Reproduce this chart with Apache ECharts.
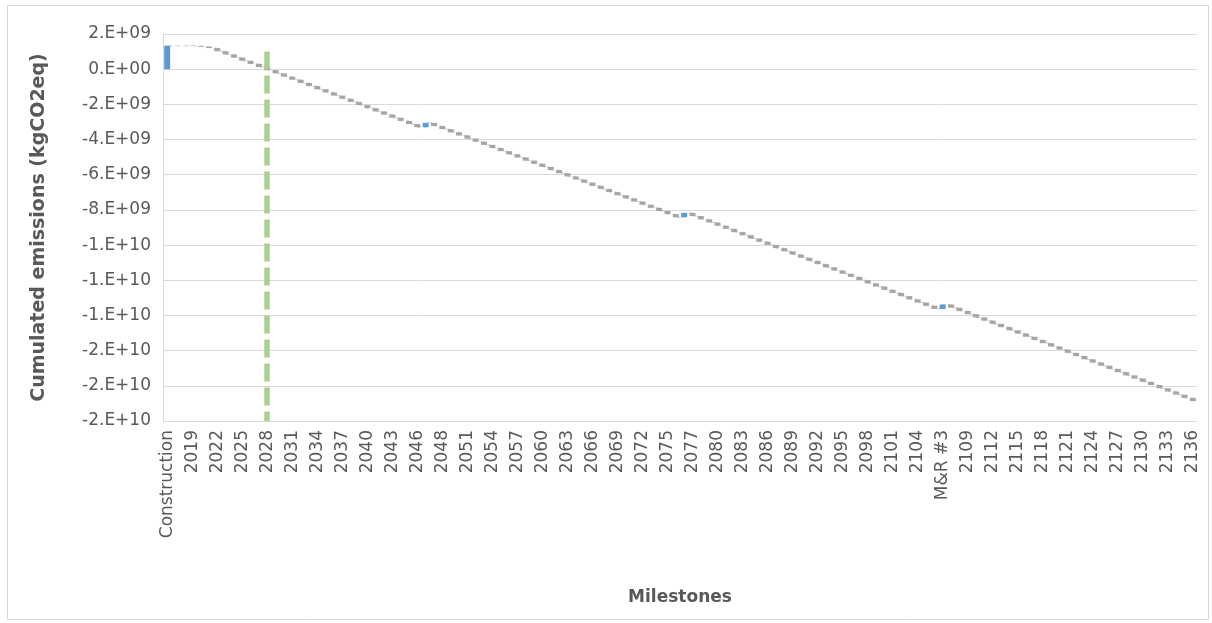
<!DOCTYPE html>
<html>
<head>
<meta charset="utf-8">
<title>Cumulated emissions</title>
<script src="https://cdn.jsdelivr.net/npm/echarts@6/dist/echarts.min.js"></script>
<style>
    html, body { margin: 0; padding: 0; background: #ffffff; }
    #waterfallChart { width: 1212px; height: 623px; }
</style>
</head>
<body>
<div id="waterfallChart"></div>
<script type="text/javascript">
    // milestones, one per bar
    const categories = [
        'Construction',
        '2017', '2018', '2019', '2020', '2021', '2022', '2023', '2024', '2025', '2026',
        '2027', '2028', '2029', '2030', '2031', '2032', '2033', '2034', '2035', '2036',
        '2037', '2038', '2039', '2040', '2041', '2042', '2043', '2044', '2045', '2046',
        'M&R #1',
        '2047', '2048', '2049', '2050', '2051', '2052', '2053', '2054', '2055', '2056',
        '2057', '2058', '2059', '2060', '2061', '2062', '2063', '2064', '2065', '2066',
        '2067', '2068', '2069', '2070', '2071', '2072', '2073', '2074', '2075', '2076',
        'M&R #2',
        '2077', '2078', '2079', '2080', '2081', '2082', '2083', '2084', '2085', '2086',
        '2087', '2088', '2089', '2090', '2091', '2092', '2093', '2094', '2095', '2096',
        '2097', '2098', '2099', '2100', '2101', '2102', '2103', '2104', '2105', '2106',
        'M&R #3',
        '2107', '2108', '2109', '2110', '2111', '2112', '2113', '2114', '2115', '2116',
        '2117', '2118', '2119', '2120', '2121', '2122', '2123', '2124', '2125', '2126',
        '2127', '2128', '2129', '2130', '2131', '2132', '2133', '2134', '2135', '2136'
    ];

    // change of emissions at each milestone (kgCO2eq)
    const deltas = [
        1330e6,
        0, 0, -10e6, -40e6, -80e6, -180e6, -180e6, -180e6, -180e6, -180e6,
        -180e6, -180e6, -180e6, -180e6, -180e6, -180e6, -180e6, -180e6, -180e6, -180e6,
        -180e6, -180e6, -180e6, -180e6, -180e6, -180e6, -180e6, -180e6, -180e6, -180e6,
        250e6,
        -179e6, -179e6, -179e6, -179e6, -179e6, -179e6, -179e6, -179e6, -179e6, -179e6,
        -179e6, -179e6, -179e6, -179e6, -179e6, -179e6, -179e6, -179e6, -179e6, -179e6,
        -179e6, -179e6, -179e6, -179e6, -179e6, -179e6, -179e6, -179e6, -179e6, -179e6,
        250e6,
        -182e6, -182e6, -182e6, -182e6, -182e6, -182e6, -182e6, -182e6, -182e6, -182e6,
        -182e6, -182e6, -182e6, -182e6, -182e6, -182e6, -182e6, -182e6, -182e6, -182e6,
        -182e6, -182e6, -182e6, -182e6, -182e6, -182e6, -182e6, -182e6, -182e6, -182e6,
        250e6,
        -183e6, -183e6, -183e6, -183e6, -183e6, -183e6, -183e6, -183e6, -183e6, -183e6,
        -183e6, -183e6, -183e6, -183e6, -183e6, -183e6, -183e6, -183e6, -183e6, -183e6,
        -183e6, -183e6, -183e6, -183e6, -183e6, -183e6, -183e6, -183e6, -183e6, -183e6
    ];

    // y tick labels from min to max, Excel "0.E+00" style
    const yTickLabels = ['-2.E+10', '-2.E+10', '-2.E+10', '-1.E+10', '-1.E+10', '-1.E+10',
        '-8.E+09', '-6.E+09', '-4.E+09', '-2.E+09', '0.E+00', '2.E+09'];
    const yMin = -2e10;
    const yMax = 2e9;
    const yStep = 2e9;

    // payback marker
    const paybackYear = '2028';
    const paybackLineTop = 1.0e9;

    const textColor = '#595959';
    const fontFamily = 'DejaVu Sans';

    // waterfall: invisible base + visible step
    let running = 0;
    const baseData = [];
    const stepData = [];
    const cumData = [];
    deltas.forEach(d => {
        const start = running;
        const end = running + d;
        baseData.push(Math.min(start, end));
        stepData.push({
            value: Math.abs(d),
            itemStyle: { color: d >= 0 ? '#5B9BD5' : '#A5A5A5' }
        });
        cumData.push(end);
        running = end;
    });

    const chart = echarts.init(document.getElementById('waterfallChart'));
    chart.setOption({
        backgroundColor: '#ffffff',
        animation: false,
        textStyle: { fontFamily: fontFamily },
        graphic: [{
            type: 'rect',
            silent: true,
            shape: { x: 7.5, y: 5.5, width: 1201, height: 614 },
            style: { fill: 'none', stroke: '#D9D9D9', lineWidth: 1 }
        }],
        grid: {
            left: 163,
            right: 15,
            top: 34,
            bottom: 202
        },
        xAxis: {
            type: 'category',
            data: categories,
            axisLine: { show: false, onZero: false },
            axisTick: { show: false },
            axisLabel: {
                interval: 2,
                rotate: 90,
                margin: 9,
                color: textColor,
                fontSize: 17,
                fontFamily: fontFamily
            },
            name: 'Milestones',
            nameLocation: 'middle',
            nameGap: 168,
            nameTextStyle: {
                color: textColor,
                fontWeight: 'bold',
                fontSize: 17,
                fontFamily: fontFamily
            }
        },
        yAxis: {
            type: 'value',
            min: yMin,
            max: yMax,
            interval: yStep,
            axisLine: { show: true, lineStyle: { color: '#D9D9D9' } },
            axisTick: { show: false },
            splitLine: { lineStyle: { color: '#D9D9D9', width: 1 } },
            axisLabel: {
                margin: 12,
                color: textColor,
                fontSize: 17,
                fontFamily: fontFamily,
                formatter: (v, i) => yTickLabels[i]
            },
            name: 'Cumulated emissions (kgCO2eq)',
            nameLocation: 'middle',
            nameRotate: 90,
            nameGap: 114,
            nameTextStyle: {
                color: textColor,
                fontWeight: 'bold',
                fontSize: 19,
                fontFamily: fontFamily
            }
        },
        series: [{
            name: 'connector',
            type: 'line',
            data: cumData,
            step: 'end',
            symbol: 'none',
            silent: true,
            z: 1,
            lineStyle: { color: '#D0D0D0', width: 1, type: [5, 3] },
            markLine: {
                silent: true,
                symbol: ['none', 'none'],
                label: { show: false },
                lineStyle: { color: '#A9D18E', width: 5.5, type: [18, 6] },
                data: [[
                    { coord: [paybackYear, paybackLineTop] },
                    { coord: [paybackYear, yMin] }
                ]]
            }
        }, {
            name: 'base',
            type: 'bar',
            stack: 'waterfall',
            stackStrategy: 'all',
            barWidth: 6,
            silent: true,
            z: 2,
            itemStyle: { color: 'transparent' },
            data: baseData
        }, {
            name: 'step',
            type: 'bar',
            stack: 'waterfall',
            stackStrategy: 'all',
            barWidth: 6,
            z: 3,
            data: stepData
        }]
    });
</script>
</body>
</html>
